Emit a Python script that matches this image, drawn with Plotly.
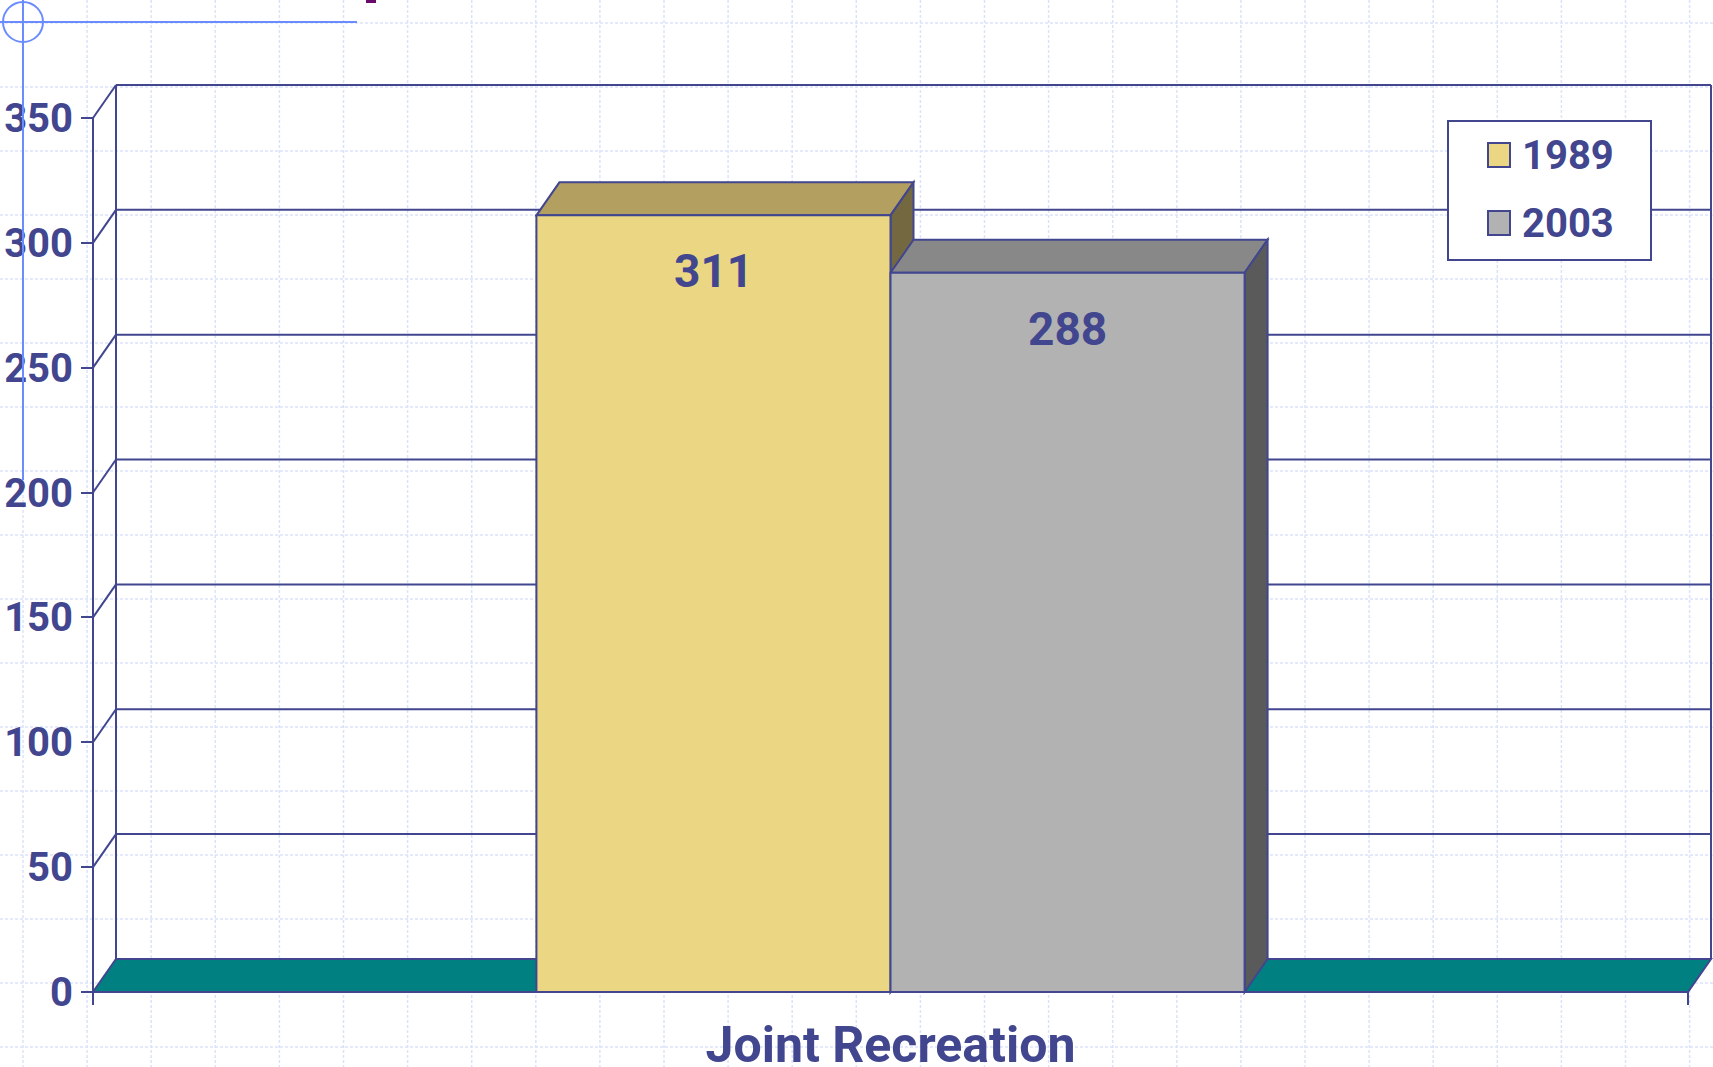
import plotly.graph_objects as go

# ---------------- data ----------------
categories = ["Joint Recreation"]
series_names = ["1989", "2003"]
values_1989 = [311]
values_2003 = [288]
series_values = [values_1989, values_2003]
front_colors = ["#EAD683", "#B2B2B2"]
top_colors = ["#B3A060", "#888888"]
side_colors = ["#746840", "#5A5A5A"]
y_ticks = [0, 50, 100, 150, 200, 250, 300, 350]

# ---------------- geometry ----------------
W, H = 1713, 1067
INK = "#41468f"
FONT = "Roboto"
ML, MR, MT, MB = 90, 0, 78, 50
PW = W - ML - MR
PH = H - MT - MB
KX = 1595.0            # px per category unit
KY = 874.0 / 350.0     # px per value unit
X0 = -0.5 - 3 / KX
X1 = X0 + PW / KX
Y1 = 366.0
Y0 = Y1 - PH / KY
DX = 23 / KX           # depth offset (x)
DY = 33 / KY           # depth offset (y)
BARGAP = 0.556
NS = len(series_names)
BW = (1 - BARGAP) / NS
YMAX = max(y_ticks)


def px2paper(px, py):
    return (px - ML) / PW, (H - MB - py) / PH


def seg(x0, y0, x1, y1, layer="below", color=INK, width=2):
    return dict(type="line", x0=x0, y0=y0, x1=x1, y1=y1, xref="x", yref="y",
                line=dict(color=color, width=width), layer=layer)


def pseg(a, b, color, width=2, dash=None, layer="above"):
    p0 = px2paper(*a); p1 = px2paper(*b)
    ln = dict(color=color, width=width)
    if dash:
        ln["dash"] = dash
    return dict(type="line", xref="paper", yref="paper", x0=p0[0], y0=p0[1],
                x1=p1[0], y1=p1[1], line=ln, layer=layer)


def poly(pts, fill, layer="below"):
    path = "M " + " L ".join(f"{x},{y}" for x, y in pts) + " Z"
    return dict(type="path", path=path, xref="x", yref="y", fillcolor=fill,
                line=dict(color=INK, width=2), layer=layer)


shapes = []

# graph-paper background (page decoration)
GRID = "#dbe2fb"
gx = 23.0
while gx < W:
    shapes.append(pseg((gx, 0), (gx, H), GRID, 1.5, "3px,2px", "below"))
    gx += 64.1
gy = 23.0
while gy < H:
    shapes.append(pseg((0, gy), (W, gy), GRID, 1.5, "3px,2px", "below"))
    gy += 64.0

# top-left slide decoration
BLUE = "#6b8cff"
shapes.append(pseg((0, 22), (357, 22), BLUE))
shapes.append(pseg((23, 0), (23, 480), BLUE))
c0 = px2paper(3, 42); c1 = px2paper(43, 2)
shapes.append(dict(type="circle", xref="paper", yref="paper", x0=c0[0], y0=c0[1], x1=c1[0], y1=c1[1],
                   line=dict(color=BLUE, width=2), layer="above"))
r0 = px2paper(366, 3); r1 = px2paper(376, -2)
shapes.append(dict(type="rect", xref="paper", yref="paper", x0=r0[0], y0=r0[1], x1=r1[0], y1=r1[1],
                   fillcolor="#6a0a6a", line=dict(width=0), layer="above"))

# back wall, side wall gridlines
L, R = -0.5, 0.5
shapes.append(seg(L + DX, DY, L + DX, YMAX + DY))
shapes.append(seg(R + DX, DY, R + DX, YMAX + DY))
for v in y_ticks[1:]:
    shapes.append(seg(L + DX, v + DY, R + DX, v + DY))
    shapes.append(seg(L, v, L + DX, v + DY))

# floor
shapes.append(poly([(L, 0), (R, 0), (R + DX, DY), (L + DX, DY)], "#008080"))

# 3D faces of bars
for s in range(NS):
    for i, v in enumerate(series_values[s]):
        xl = i - (1 - BARGAP) / 2 + s * BW
        xr = xl + BW
        shapes.append(poly([(xl, v), (xr, v), (xr + DX, v + DY), (xl + DX, v + DY)], top_colors[s]))
        shapes.append(poly([(xr, 0), (xr, v), (xr + DX, v + DY), (xr + DX, DY)], side_colors[s]))

# front axis line and end tick (above)
shapes.append(seg(L, YMAX, L, -13 / KY, layer="above"))
shapes.append(seg(R, 0, R, -13 / KY, layer="above"))
shapes.append(seg(L, 0, R, 0, layer="above"))

fig = go.Figure()
for s in range(NS):
    fig.add_trace(go.Bar(
        x=list(range(len(categories))), y=series_values[s], name=series_names[s],
        marker=dict(color=front_colors[s], line=dict(color=INK, width=2)),
        showlegend=False, hoverinfo="skip"))

annotations = []
# value labels
for s in range(NS):
    for i, v in enumerate(series_values[s]):
        xc = i - (1 - BARGAP) / 2 + (s + 0.5) * BW
        annotations.append(dict(x=xc, y=v, xref="x", yref="y", text=str(v), showarrow=False,
                                yshift=-56, yanchor="middle",
                                font=dict(family=FONT, size=46, color=INK, weight="bold")))

# legend (manual, to match the large swatches)
b0 = px2paper(1448, 260); b1 = px2paper(1651, 121)
shapes.append(dict(type="rect", xref="paper", yref="paper", x0=b0[0], y0=b0[1], x1=b1[0], y1=b1[1],
                   fillcolor="white", line=dict(color=INK, width=2), layer="above"))
for s in range(NS):
    cy = 155 + 68 * s
    q0 = px2paper(1488, cy + 12); q1 = px2paper(1510, cy - 12)
    shapes.append(dict(type="rect", xref="paper", yref="paper", x0=q0[0], y0=q0[1], x1=q1[0], y1=q1[1],
                       fillcolor=front_colors[s], line=dict(color=INK, width=2), layer="above"))
    t = px2paper(1520, cy)
    annotations.append(dict(x=t[0], y=t[1], xref="paper", yref="paper", text=series_names[s],
                            showarrow=False, xanchor="left", yanchor="middle",
                            font=dict(family=FONT, size=40, color=INK, weight="bold")))

fig.update_layout(
    width=W, height=H, autosize=False,
    margin=dict(l=ML, r=MR, t=MT, b=MB, pad=0, autoexpand=False),
    paper_bgcolor="white", plot_bgcolor="rgba(0,0,0,0)",
    barmode="group", bargap=BARGAP, bargroupgap=0, showlegend=False,
    shapes=shapes, annotations=annotations, hovermode=False,
    xaxis=dict(range=[X0, X1], tickvals=list(range(len(categories))), ticktext=categories,
               showgrid=False, zeroline=False, showline=False, ticks="", automargin=False,
               ticklabelstandoff=-6,
               tickfont=dict(family=FONT, size=50, color=INK, weight="bold"), fixedrange=True),
    yaxis=dict(range=[Y0, Y1], tickvals=y_ticks, anchor="free", position=3 / PW,
               showgrid=False, zeroline=False, showline=False, automargin=False,
               ticks="outside", ticklen=12, tickwidth=2, tickcolor=INK,
               tickfont=dict(family=FONT, size=40, color=INK, weight="bold"), fixedrange=True),
)

fig.write_html("out.html", config={"displayModeBar": False, "staticPlot": True},
               post_script="document.body.style.margin='0';document.body.style.overflow='hidden';")
